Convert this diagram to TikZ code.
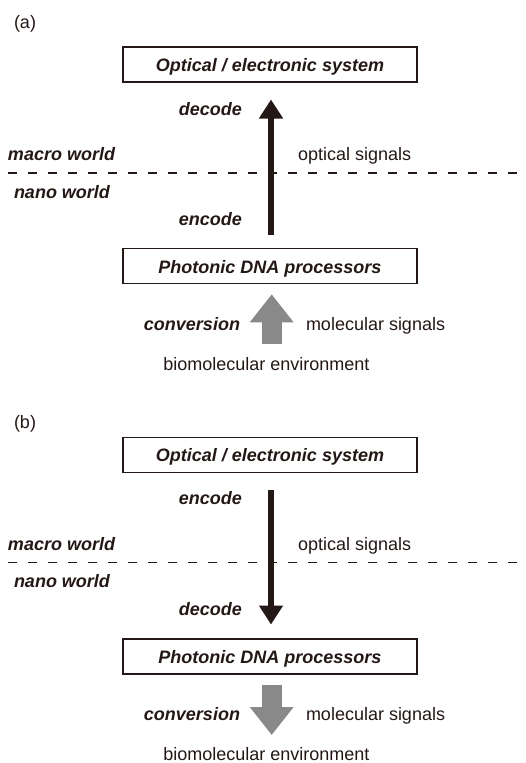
\documentclass[tikz,border=0pt]{standalone}
\usepackage{fontspec}
\setmainfont{Liberation Sans}
\usetikzlibrary{arrows.meta}
\definecolor{ink}{HTML}{231815}
\definecolor{graya}{RGB}{137,137,137}
\tikzset{
  every node/.style={inner sep=0pt, outer sep=0pt, text=ink, font=\fontsize{18}{20}\selectfont},
  boxnode/.style={draw=ink, line width=1.2pt, minimum width=294pt, minimum height=35pt,
    text height=14.4pt, text depth=0pt, font=\fontsize{18}{20}\selectfont\bfseries\itshape},
  bi/.style={font=\fontsize{18}{20}\selectfont\bfseries\itshape},
  rg/.style={font=\fontsize{18}{20}\selectfont},
  blackarrow/.style={draw=ink, line width=6pt, -{Triangle[width=23pt, length=19pt]}},
  grayarrow/.style={draw=graya, line width=20pt, -{Triangle[width=42pt, length=28pt]}},
  divider/.style={draw=ink, line width=1.2pt, dash pattern=on 9pt off 11pt},
}
\begin{document}
\begin{tikzpicture}[x=1pt, y=-1pt]
\useasboundingbox (0,0) rectangle (526,763);
% ---------- panel (a) ----------
\node[rg, anchor=base west] (la) at (14,28) {(a)};
\node[boxnode] (oa) at (270,64.5) {Optical / electronic system};
\node[boxnode] (pa) at (270,266.3) {Photonic DNA processors};
\node[bi, anchor=base east] (deca) at (242,115) {decode};
\node[bi, anchor=base east] (enca) at (242,225) {encode};
\node[bi, anchor=base west] (maca) at (8,160) {macro world};
\node[bi, anchor=base west] (nana) at (14,198) {nano world};
\node[rg, anchor=base west] (opta) at (298,160) {optical signals};
\coordinate (dla) at (8,173);
\coordinate (dra) at (526,173);
\draw[divider] (dla) -- (dra);
\draw[blackarrow] ([xshift=1pt,yshift=13.8pt]pa.north) -- ([xshift=1pt,yshift=-17.5pt]oa.south);
\node[bi, anchor=base east] (cona) at (240,330) {conversion};
\node[rg, anchor=base west] (mola) at (306,330) {molecular signals};
\node[rg, anchor=base] (bioa) at (266.5,370.5) {biomolecular environment};
\coordinate (ga) at (271.7,344.3);
\draw[grayarrow] (ga) -- ([xshift=1.7pt,yshift=-10.5pt]pa.south);
% ---------- panel (b) ----------
\node[rg, anchor=base west] (lb) at (14,428) {(b)};
\node[boxnode] (ob) at (270,454.6) {Optical / electronic system};
\node[boxnode] (pb) at (270,656.4) {Photonic DNA processors};
\node[bi, anchor=base east] (encb) at (242,504) {encode};
\node[bi, anchor=base east] (decb) at (242,615) {decode};
\node[bi, anchor=base west] (macb) at (8,550) {macro world};
\node[bi, anchor=base west] (nanb) at (14,587.5) {nano world};
\node[rg, anchor=base west] (optb) at (298,550) {optical signals};
\coordinate (dlb) at (8,562.5);
\coordinate (drb) at (526,562.5);
\draw[divider] (dlb) -- (drb);
\draw[blackarrow] ([xshift=1pt,yshift=-17.9pt]ob.south) -- ([xshift=1pt,yshift=14.4pt]pb.north);
\node[bi, anchor=base east] (conb) at (240,720) {conversion};
\node[rg, anchor=base west] (molb) at (306,720) {molecular signals};
\node[rg, anchor=base] (biob) at (266.5,760) {biomolecular environment};
\coordinate (gb) at (271.7,735);
\draw[grayarrow] ([xshift=1.7pt,yshift=-11.2pt]pb.south) -- (gb);
\end{tikzpicture}
\end{document}
